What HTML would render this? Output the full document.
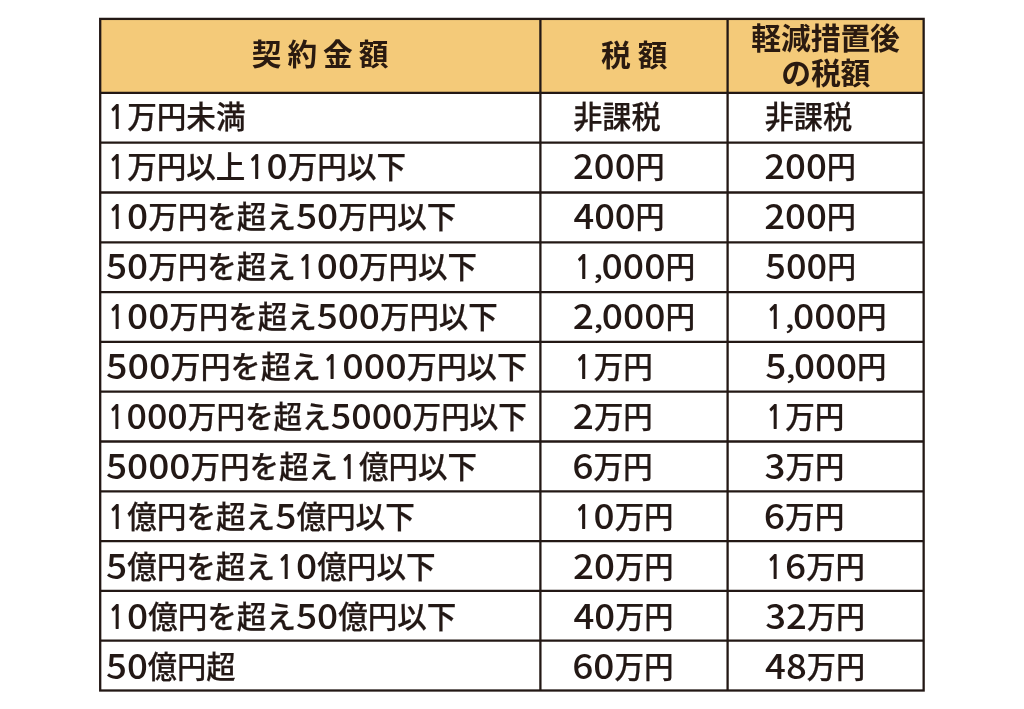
<!DOCTYPE html>
<html lang="ja"><head><meta charset="utf-8"><title>契約金額と税額</title>
<style>
html,body{margin:0;padding:0;background:#fff;}
body{width:1024px;height:709px;position:relative;overflow:hidden;}
svg{position:absolute;left:0;top:0;font-family:"Noto Sans CJK JP","Liberation Sans",sans-serif;}
.b{font-family:"Noto Sans CJK JP Medium","Noto Sans CJK JP","Liberation Sans",sans-serif;}
.b{font-weight:500;fill:#231815;}
.b .d{font-size:34.50px;}
.b .k{font-size:30.40px;stroke:#231815;stroke-width:0.25px;}
.b .c{font-size:26.00px;}
.b .o{font-family:"NanumGothic",sans-serif;font-weight:700;font-size:32.80px;}
.h{font-weight:700;fill:#2a1a10;font-size:30px;text-anchor:middle;}
</style></head><body>
<svg width="1024" height="709" viewBox="0 0 1024 709">
<rect x="100.20" y="18.90" width="823.45" height="74.00" fill="#f4ca79"/>
<g stroke="#231815" stroke-width="2.30" fill="none">
<rect x="100.20" y="18.90" width="823.45" height="671.60"/>
<line x1="540.40" y1="18.90" x2="540.40" y2="690.50"/>
<line x1="727.60" y1="18.90" x2="727.60" y2="690.50"/>
<line x1="100.20" y1="92.90" x2="923.65" y2="92.90"/>
<line x1="100.20" y1="142.70" x2="923.65" y2="142.70"/>
<line x1="100.20" y1="192.50" x2="923.65" y2="192.50"/>
<line x1="100.20" y1="242.30" x2="923.65" y2="242.30"/>
<line x1="100.20" y1="292.10" x2="923.65" y2="292.10"/>
<line x1="100.20" y1="341.90" x2="923.65" y2="341.90"/>
<line x1="100.20" y1="391.70" x2="923.65" y2="391.70"/>
<line x1="100.20" y1="441.50" x2="923.65" y2="441.50"/>
<line x1="100.20" y1="491.30" x2="923.65" y2="491.30"/>
<line x1="100.20" y1="541.10" x2="923.65" y2="541.10"/>
<line x1="100.20" y1="590.90" x2="923.65" y2="590.90"/>
<line x1="100.20" y1="640.70" x2="923.65" y2="640.70"/>
</g>
<g class="h">
<text x="251.70 287.40 323.10 358.80" y="65.40" font-size="29.70px" style="text-anchor:start">契約金額</text>
<text x="601.00 637.70" y="66.00" font-size="29.70px" style="text-anchor:start">税額</text>
<text x="751.30 781.00 810.70 840.40 870.10" y="49.00" font-size="29.80px" style="text-anchor:start">軽減措置後</text>
<text x="781.20 810.90 840.60" y="84.10" font-size="29.80px" style="text-anchor:start">の税額</text>
</g>
<g class="b">
<text id="c0_0"><tspan class="o" x="107.76" y="129.20" textLength="17.56" lengthAdjust="spacingAndGlyphs">1</tspan><tspan class="k" x="127.18" y="128.15" textLength="118.42" lengthAdjust="spacingAndGlyphs">万円未満</tspan></text>
<text id="c0_1"><tspan class="k" x="573.20" y="128.15" textLength="87.49" lengthAdjust="spacingAndGlyphs">非課税</tspan></text>
<text id="c0_2"><tspan class="k" x="764.71" y="128.15" textLength="87.48" lengthAdjust="spacingAndGlyphs">非課税</tspan></text>
<text id="c1_0"><tspan class="o" x="107.75" y="179.20" textLength="17.54" lengthAdjust="spacingAndGlyphs">1</tspan><tspan class="k" x="127.15" y="178.15" textLength="118.29" lengthAdjust="spacingAndGlyphs">万円以上</tspan><tspan class="o" x="247.20" y="179.20" textLength="17.54" lengthAdjust="spacingAndGlyphs">1</tspan><tspan class="d" x="266.60" y="179.20" textLength="21.15" lengthAdjust="spacingAndGlyphs">0</tspan><tspan class="k" x="287.75" y="178.15" textLength="118.29" lengthAdjust="spacingAndGlyphs">万円以下</tspan></text>
<text id="c1_1"><tspan class="d" x="573.05" y="179.20" textLength="62.46" lengthAdjust="spacingAndGlyphs">200</tspan><tspan class="k" x="635.51" y="178.15" textLength="29.11" lengthAdjust="spacingAndGlyphs">円</tspan></text>
<text id="c1_2"><tspan class="d" x="764.18" y="179.20" textLength="62.69" lengthAdjust="spacingAndGlyphs">200</tspan><tspan class="k" x="826.87" y="178.15" textLength="29.22" lengthAdjust="spacingAndGlyphs">円</tspan></text>
<text id="c2_0"><tspan class="o" x="107.75" y="229.20" textLength="17.52" lengthAdjust="spacingAndGlyphs">1</tspan><tspan class="d" x="127.13" y="229.20" textLength="21.13" lengthAdjust="spacingAndGlyphs">0</tspan><tspan class="k" x="148.25" y="228.15" textLength="147.69" lengthAdjust="spacingAndGlyphs">万円を超え</tspan><tspan class="d" x="295.95" y="229.20" textLength="42.25" lengthAdjust="spacingAndGlyphs">50</tspan><tspan class="k" x="338.20" y="228.15" textLength="118.15" lengthAdjust="spacingAndGlyphs">万円以下</tspan></text>
<text id="c2_1"><tspan class="d" x="573.43" y="229.20" textLength="62.17" lengthAdjust="spacingAndGlyphs">400</tspan><tspan class="k" x="635.60" y="228.15" textLength="28.97" lengthAdjust="spacingAndGlyphs">円</tspan></text>
<text id="c2_2"><tspan class="d" x="764.18" y="229.20" textLength="62.69" lengthAdjust="spacingAndGlyphs">200</tspan><tspan class="k" x="826.87" y="228.15" textLength="29.22" lengthAdjust="spacingAndGlyphs">円</tspan></text>
<text id="c3_0"><tspan class="d" x="106.00" y="279.20" textLength="42.20" lengthAdjust="spacingAndGlyphs">50</tspan><tspan class="k" x="148.20" y="278.15" textLength="147.50" lengthAdjust="spacingAndGlyphs">万円を超え</tspan><tspan class="o" x="297.45" y="279.20" textLength="17.50" lengthAdjust="spacingAndGlyphs">1</tspan><tspan class="d" x="316.80" y="279.20" textLength="42.20" lengthAdjust="spacingAndGlyphs">00</tspan><tspan class="k" x="359.00" y="278.15" textLength="118.00" lengthAdjust="spacingAndGlyphs">万円以下</tspan></text>
<text id="c3_1"><tspan class="o" x="574.27" y="279.20" textLength="17.69" lengthAdjust="spacingAndGlyphs">1</tspan><tspan class="c" x="593.32" y="277.90" textLength="9.80" lengthAdjust="spacingAndGlyphs">,</tspan><tspan class="d" x="601.51" y="279.20" textLength="63.98" lengthAdjust="spacingAndGlyphs">000</tspan><tspan class="k" x="665.49" y="278.15" textLength="29.82" lengthAdjust="spacingAndGlyphs">円</tspan></text>
<text id="c3_2"><tspan class="d" x="765.32" y="279.20" textLength="61.89" lengthAdjust="spacingAndGlyphs">500</tspan><tspan class="k" x="827.21" y="278.15" textLength="28.84" lengthAdjust="spacingAndGlyphs">円</tspan></text>
<text id="c4_0"><tspan class="o" x="107.75" y="329.20" textLength="17.49" lengthAdjust="spacingAndGlyphs">1</tspan><tspan class="d" x="127.09" y="329.20" textLength="42.17" lengthAdjust="spacingAndGlyphs">00</tspan><tspan class="k" x="169.26" y="328.15" textLength="147.40" lengthAdjust="spacingAndGlyphs">万円を超え</tspan><tspan class="d" x="316.65" y="329.20" textLength="63.26" lengthAdjust="spacingAndGlyphs">500</tspan><tspan class="k" x="379.91" y="328.15" textLength="117.92" lengthAdjust="spacingAndGlyphs">万円以下</tspan></text>
<text id="c4_1"><tspan class="d" x="572.79" y="329.20" textLength="21.25" lengthAdjust="spacingAndGlyphs">2</tspan><tspan class="c" x="593.53" y="327.90" textLength="9.77" lengthAdjust="spacingAndGlyphs">,</tspan><tspan class="d" x="601.69" y="329.20" textLength="63.74" lengthAdjust="spacingAndGlyphs">000</tspan><tspan class="k" x="665.43" y="328.15" textLength="29.71" lengthAdjust="spacingAndGlyphs">円</tspan></text>
<text id="c4_2"><tspan class="o" x="765.77" y="329.20" textLength="17.66" lengthAdjust="spacingAndGlyphs">1</tspan><tspan class="c" x="784.79" y="327.90" textLength="9.79" lengthAdjust="spacingAndGlyphs">,</tspan><tspan class="d" x="792.96" y="329.20" textLength="63.88" lengthAdjust="spacingAndGlyphs">000</tspan><tspan class="k" x="856.85" y="328.15" textLength="29.77" lengthAdjust="spacingAndGlyphs">円</tspan></text>
<text id="c5_0"><tspan class="d" x="106.00" y="379.20" textLength="64.49" lengthAdjust="spacingAndGlyphs">500</tspan><tspan class="k" x="170.49" y="378.15" textLength="150.27" lengthAdjust="spacingAndGlyphs">万円を超え</tspan><tspan class="o" x="322.55" y="379.20" textLength="17.83" lengthAdjust="spacingAndGlyphs">1</tspan><tspan class="d" x="342.26" y="379.20" textLength="64.49" lengthAdjust="spacingAndGlyphs">000</tspan><tspan class="k" x="406.75" y="378.15" textLength="120.22" lengthAdjust="spacingAndGlyphs">万円以下</tspan></text>
<text id="c5_1"><tspan class="o" x="574.26" y="379.20" textLength="17.55" lengthAdjust="spacingAndGlyphs">1</tspan><tspan class="k" x="593.67" y="378.15" textLength="59.18" lengthAdjust="spacingAndGlyphs">万円</tspan></text>
<text id="c5_2"><tspan class="d" x="765.30" y="379.20" textLength="21.06" lengthAdjust="spacingAndGlyphs">5</tspan><tspan class="c" x="785.86" y="377.90" textLength="9.68" lengthAdjust="spacingAndGlyphs">,</tspan><tspan class="d" x="793.94" y="379.20" textLength="63.17" lengthAdjust="spacingAndGlyphs">000</tspan><tspan class="k" x="857.11" y="378.15" textLength="29.44" lengthAdjust="spacingAndGlyphs">円</tspan></text>
<text id="c6_0"><tspan class="o" x="107.70" y="429.20" textLength="16.96" lengthAdjust="spacingAndGlyphs">1</tspan><tspan class="d" x="126.45" y="429.20" textLength="61.36" lengthAdjust="spacingAndGlyphs">000</tspan><tspan class="k" x="187.81" y="428.15" textLength="142.97" lengthAdjust="spacingAndGlyphs">万円を超え</tspan><tspan class="d" x="330.78" y="429.20" textLength="81.81" lengthAdjust="spacingAndGlyphs">5000</tspan><tspan class="k" x="412.59" y="428.15" textLength="114.38" lengthAdjust="spacingAndGlyphs">万円以下</tspan></text>
<text id="c6_1"><tspan class="d" x="572.81" y="429.20" textLength="21.07" lengthAdjust="spacingAndGlyphs">2</tspan><tspan class="k" x="593.88" y="428.15" textLength="58.91" lengthAdjust="spacingAndGlyphs">万円</tspan></text>
<text id="c6_2"><tspan class="o" x="765.75" y="429.20" textLength="17.55" lengthAdjust="spacingAndGlyphs">1</tspan><tspan class="k" x="785.16" y="428.15" textLength="59.17" lengthAdjust="spacingAndGlyphs">万円</tspan></text>
<text id="c7_0"><tspan class="d" x="106.00" y="479.20" textLength="84.40" lengthAdjust="spacingAndGlyphs">5000</tspan><tspan class="k" x="190.40" y="478.15" textLength="147.50" lengthAdjust="spacingAndGlyphs">万円を超え</tspan><tspan class="o" x="339.65" y="479.20" textLength="17.50" lengthAdjust="spacingAndGlyphs">1</tspan><tspan class="k" x="359.00" y="478.15" textLength="118.00" lengthAdjust="spacingAndGlyphs">億円以下</tspan></text>
<text id="c7_1"><tspan class="d" x="572.19" y="479.20" textLength="21.24" lengthAdjust="spacingAndGlyphs">6</tspan><tspan class="k" x="593.43" y="478.15" textLength="59.39" lengthAdjust="spacingAndGlyphs">万円</tspan></text>
<text id="c7_2"><tspan class="d" x="764.61" y="479.20" textLength="20.99" lengthAdjust="spacingAndGlyphs">3</tspan><tspan class="k" x="785.60" y="478.15" textLength="58.70" lengthAdjust="spacingAndGlyphs">万円</tspan></text>
<text id="c8_0"><tspan class="o" x="107.76" y="529.20" textLength="17.57" lengthAdjust="spacingAndGlyphs">1</tspan><tspan class="k" x="127.18" y="528.15" textLength="148.06" lengthAdjust="spacingAndGlyphs">億円を超え</tspan><tspan class="d" x="275.24" y="529.20" textLength="21.18" lengthAdjust="spacingAndGlyphs">5</tspan><tspan class="k" x="296.42" y="528.15" textLength="118.45" lengthAdjust="spacingAndGlyphs">億円以下</tspan></text>
<text id="c8_1"><tspan class="o" x="574.25" y="529.20" textLength="17.48" lengthAdjust="spacingAndGlyphs">1</tspan><tspan class="d" x="593.57" y="529.20" textLength="21.07" lengthAdjust="spacingAndGlyphs">0</tspan><tspan class="k" x="614.64" y="528.15" textLength="58.92" lengthAdjust="spacingAndGlyphs">万円</tspan></text>
<text id="c8_2"><tspan class="d" x="763.85" y="529.20" textLength="21.21" lengthAdjust="spacingAndGlyphs">6</tspan><tspan class="k" x="785.06" y="528.15" textLength="59.30" lengthAdjust="spacingAndGlyphs">万円</tspan></text>
<text id="c9_0"><tspan class="d" x="106.00" y="579.20" textLength="21.15" lengthAdjust="spacingAndGlyphs">5</tspan><tspan class="k" x="127.15" y="578.15" textLength="147.84" lengthAdjust="spacingAndGlyphs">億円を超え</tspan><tspan class="o" x="276.74" y="579.20" textLength="17.54" lengthAdjust="spacingAndGlyphs">1</tspan><tspan class="d" x="296.14" y="579.20" textLength="21.15" lengthAdjust="spacingAndGlyphs">0</tspan><tspan class="k" x="317.28" y="578.15" textLength="118.27" lengthAdjust="spacingAndGlyphs">億円以下</tspan></text>
<text id="c9_1"><tspan class="d" x="573.05" y="579.20" textLength="41.90" lengthAdjust="spacingAndGlyphs">20</tspan><tspan class="k" x="614.95" y="578.15" textLength="58.58" lengthAdjust="spacingAndGlyphs">万円</tspan></text>
<text id="c9_2"><tspan class="o" x="765.75" y="579.20" textLength="17.47" lengthAdjust="spacingAndGlyphs">1</tspan><tspan class="d" x="785.07" y="579.20" textLength="21.07" lengthAdjust="spacingAndGlyphs">6</tspan><tspan class="k" x="806.14" y="578.15" textLength="58.91" lengthAdjust="spacingAndGlyphs">万円</tspan></text>
<text id="c10_0"><tspan class="o" x="107.75" y="629.20" textLength="17.52" lengthAdjust="spacingAndGlyphs">1</tspan><tspan class="d" x="127.13" y="629.20" textLength="21.13" lengthAdjust="spacingAndGlyphs">0</tspan><tspan class="k" x="148.25" y="628.15" textLength="147.69" lengthAdjust="spacingAndGlyphs">億円を超え</tspan><tspan class="d" x="295.95" y="629.20" textLength="42.25" lengthAdjust="spacingAndGlyphs">50</tspan><tspan class="k" x="338.20" y="628.15" textLength="118.15" lengthAdjust="spacingAndGlyphs">億円以下</tspan></text>
<text id="c10_1"><tspan class="d" x="573.44" y="629.20" textLength="41.73" lengthAdjust="spacingAndGlyphs">40</tspan><tspan class="k" x="615.17" y="628.15" textLength="58.34" lengthAdjust="spacingAndGlyphs">万円</tspan></text>
<text id="c10_2"><tspan class="d" x="765.32" y="629.20" textLength="41.58" lengthAdjust="spacingAndGlyphs">32</tspan><tspan class="k" x="806.90" y="628.15" textLength="58.13" lengthAdjust="spacingAndGlyphs">万円</tspan></text>
<text id="c11_0"><tspan class="d" x="106.00" y="679.20" textLength="41.84" lengthAdjust="spacingAndGlyphs">50</tspan><tspan class="k" x="147.84" y="678.15" textLength="87.74" lengthAdjust="spacingAndGlyphs">億円超</tspan></text>
<text id="c11_1"><tspan class="d" x="572.22" y="679.20" textLength="42.28" lengthAdjust="spacingAndGlyphs">60</tspan><tspan class="k" x="614.50" y="678.15" textLength="59.11" lengthAdjust="spacingAndGlyphs">万円</tspan></text>
<text id="c11_2"><tspan class="d" x="765.11" y="679.20" textLength="41.67" lengthAdjust="spacingAndGlyphs">48</tspan><tspan class="k" x="806.78" y="678.15" textLength="58.26" lengthAdjust="spacingAndGlyphs">万円</tspan></text>
</g>
</svg>
</body></html>
